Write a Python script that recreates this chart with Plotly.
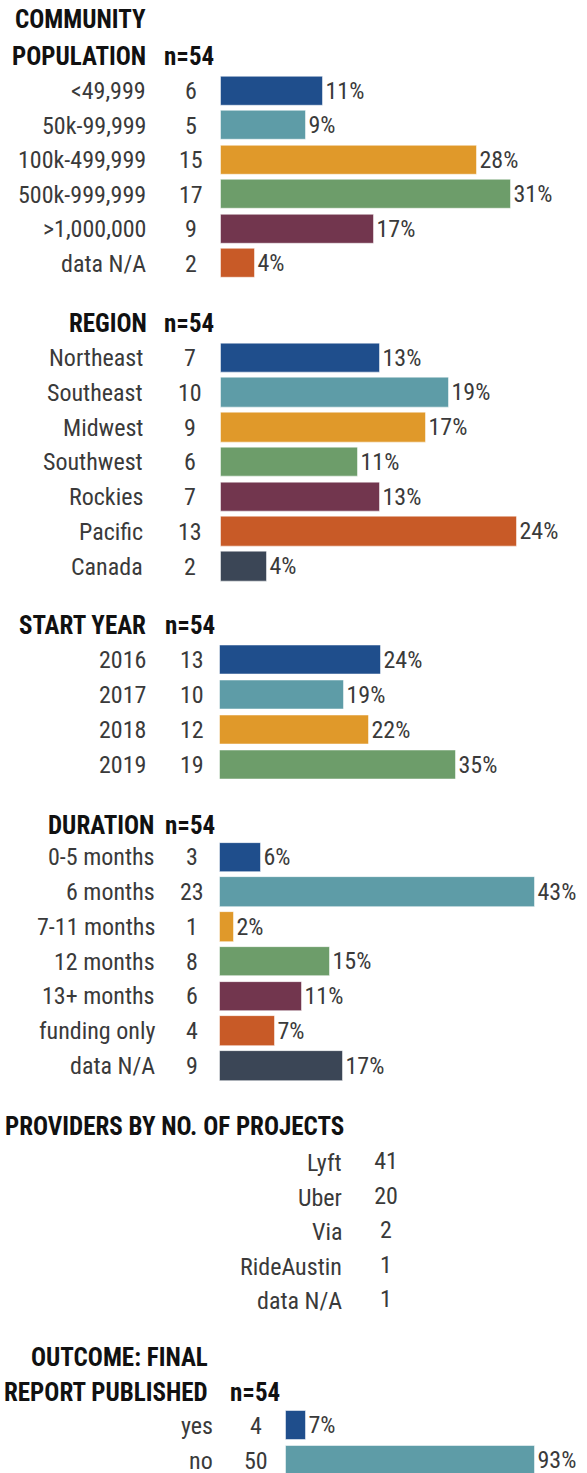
import plotly.graph_objects as go

W, H = 587, 1473
FONT = "Roboto Condensed, DejaVu Sans Condensed, Liberation Sans Narrow, Roboto, sans-serif"
TXT = "#3a3a3a"

# palette used in every section, in row order
colors = ["#1f4e8c", "#5e9ca7", "#e0992a", "#6d9d6a", "#72364e", "#c85a27", "#3b4656"]

# community population
pop_labels = ["<49,999", "50k-99,999", "100k-499,999", "500k-999,999", ">1,000,000", "data N/A"]
pop_counts = [6, 5, 15, 17, 9, 2]
pop_pcts = [11, 9, 28, 31, 17, 4]

# region
reg_labels = ["Northeast", "Southeast", "Midwest", "Southwest", "Rockies", "Pacific", "Canada"]
reg_counts = [7, 10, 9, 6, 7, 13, 2]
reg_pcts = [13, 19, 17, 11, 13, 24, 4]

# start year
year_labels = ["2016", "2017", "2018", "2019"]
year_counts = [13, 10, 12, 19]
year_pcts = [24, 19, 22, 35]

# duration
dur_labels = ["0-5 months", "6 months", "7-11 months", "12 months", "13+ months", "funding only", "data N/A"]
dur_counts = [3, 23, 1, 8, 6, 4, 9]
dur_pcts = [6, 43, 2, 15, 11, 7, 17]

# providers
prov_labels = ["Lyft", "Uber", "Via", "RideAustin", "data N/A"]
prov_counts = [41, 20, 2, 1, 1]

# outcome
out_labels = ["yes", "no"]
out_counts = [4, 50]
out_pcts = [7, 93]


def font(size=24, color=TXT, bold=False):
    f = dict(family=FONT, size=size, color=color)
    if bold:
        f["weight"] = "bold"
    try:
        go.layout.annotation.Font(stretch="condensed")
        f["stretch"] = "condensed"
    except (ValueError, TypeError):
        pass
    return f


fig = go.Figure()
annotations = []


def axis_domain(c0, n, step):
    top = c0 - step / 2
    bottom = min(H, top + n * step)
    ymax = -0.5 + (bottom - top) / step
    return [1 - bottom / H, 1 - top / H], [ymax, -0.5]


def text_ann(text, xpx, ypx, anchor, bold=False):
    annotations.append(dict(
        text=text, x=xpx / W, y=1 - ypx / H, xref="paper", yref="paper",
        xanchor=anchor, yanchor="middle", showarrow=False,
        font=font(25 if bold else 24, "#111" if bold else TXT, bold)))


def bar_section(i, labels, counts, pcts, c0, step, x0, scale, lab_r, cnt_x):
    ax = "" if i == 1 else str(i)
    dom, yr = axis_domain(c0, len(labels), step)
    fig.add_trace(go.Bar(
        y=list(range(len(labels))), x=counts, orientation="h",
        marker=dict(color=colors[:len(labels)], line=dict(color="rgba(255,255,255,0.5)", width=1)),
        width=0.85,
        text=[f"{p}%" for p in pcts], textposition="outside", cliponaxis=False,
        constraintext="none",
        textfont=font(24),
        xaxis="x" + ax, yaxis="y" + ax, showlegend=False, hoverinfo="skip"))
    fig.update_layout({
        "xaxis" + ax: dict(domain=[0, 1], range=[-x0 / scale, (W - x0) / scale], visible=False,
                           anchor="y" + ax),
        "yaxis" + ax: dict(domain=dom, range=yr, visible=False, anchor="x" + ax),
    })
    for k, (lab, c) in enumerate(zip(labels, counts)):
        annotations.append(dict(text=lab, x=lab_r / W, y=k, xref="paper", yref="y" + ax,
                                xanchor="right", yanchor="middle", showarrow=False,
                                font=font(24)))
        annotations.append(dict(text=str(c), x=cnt_x / W, y=k, xref="paper", yref="y" + ax,
                                xanchor="center", yanchor="middle", showarrow=False,
                                font=font(24)))


bar_section(1, pop_labels, pop_counts, pop_pcts, 91, 34.5, 221, 17.05, 148, 191)
bar_section(2, reg_labels, reg_counts, reg_pcts, 358, 34.75, 221, 22.75, 145, 190)
bar_section(3, year_labels, year_counts, year_pcts, 660, 35, 220, 12.4, 148, 192)
bar_section(4, dur_labels, dur_counts, dur_pcts, 857.5, 34.75, 220, 13.7, 157, 192)
bar_section(6, out_labels, out_counts, out_pcts, 1425.5, 35, 286, 4.97, 215, 256)

# providers: text table only
dom, yr = axis_domain(1163, len(prov_labels), 34.5)
fig.add_trace(go.Scatter(
    y=list(range(len(prov_labels))), x=[0] * len(prov_labels), mode="text",
    text=[str(c) for c in prov_counts], textposition="middle center",
    textfont=font(24), cliponaxis=False,
    xaxis="x5", yaxis="y5", showlegend=False, hoverinfo="skip"))
fig.update_layout(
    xaxis5=dict(domain=[0, 1], range=[-386, W - 386], visible=False, anchor="y5"),
    yaxis5=dict(domain=dom, range=yr, visible=False, anchor="x5"))
for k, lab in enumerate(prov_labels):
    annotations.append(dict(text=lab, x=344 / W, y=k, xref="paper", yref="y5",
                            xanchor="right", yanchor="middle", showarrow=False,
                            font=font(24)))

# section headings
text_ann("COMMUNITY", 148, 20, "right", True)
text_ann("POPULATION", 148, 56, "right", True)
text_ann("n=54", 162, 56, "left", True)
text_ann("REGION", 149, 324, "right", True)
text_ann("n=54", 162, 324, "left", True)
text_ann("START YEAR", 148, 626, "right", True)
text_ann("n=54", 163, 626, "left", True)
text_ann("DURATION", 156, 826, "right", True)
text_ann("n=54", 163, 826, "left", True)
text_ann("PROVIDERS BY NO. OF PROJECTS", 3, 1126, "left", True)
text_ann("OUTCOME: FINAL", 210, 1357, "right", True)
text_ann("REPORT PUBLISHED", 210, 1392, "right", True)
text_ann("n=54", 228, 1392, "left", True)

fig.update_layout(
    width=W, height=H,
    margin=dict(l=0, r=0, t=0, b=0),
    paper_bgcolor="white", plot_bgcolor="white",
    annotations=annotations,
    bargap=0,
)

# the page body has a default 8px margin; drop it so the figure fills the window
fig.write_html("out.html", config={"displayModeBar": False},
               post_script="document.body.style.margin='0px';")
